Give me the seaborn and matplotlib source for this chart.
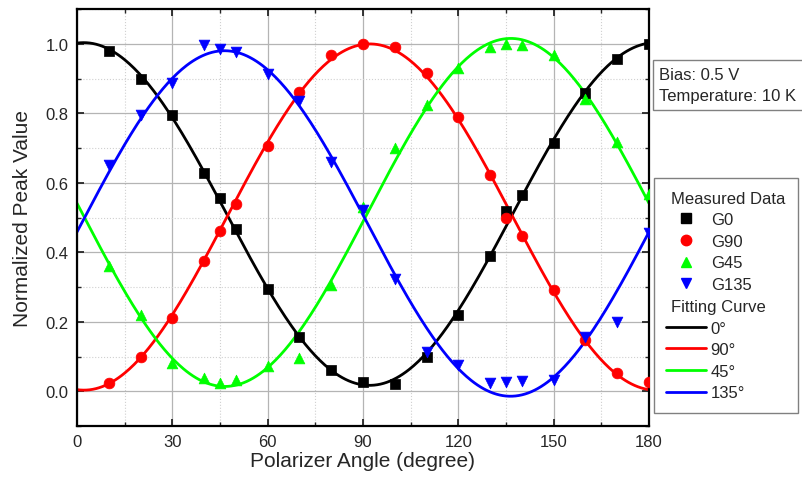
import matplotlib
matplotlib.use("Agg")
import matplotlib.pyplot as plt
import numpy as np
import pandas as pd
import seaborn as sns
from matplotlib.lines import Line2D
from matplotlib.patches import Rectangle
from matplotlib.ticker import MultipleLocator

angles = [10, 20, 30, 40, 45, 50, 60, 70, 80, 90, 100, 110, 120, 130, 135, 140, 150, 160, 170, 180]
g0 = [0.98, 0.90, 0.795, 0.628, 0.555, 0.467, 0.294, 0.156, 0.062, 0.026, 0.02, 0.098, 0.218, 0.389,
      0.52, 0.565, 0.715, 0.857, 0.957, 1.0]
g90 = [0.025, 0.10, 0.21, 0.375, 0.46, 0.54, 0.706, 0.862, 0.968, 1.0, 0.99, 0.916, 0.79, 0.622,
       0.50, 0.447, 0.29, 0.147, 0.052, 0.027]
g45 = [0.36, 0.218, 0.082, 0.037, 0.025, 0.032, 0.072, 0.095, 0.305, 0.53, 0.70, 0.825, 0.93, 0.99,
       1.0, 0.997, 0.968, 0.84, 0.718, 0.567]
g135 = [0.652, 0.795, 0.888, 0.997, 0.986, 0.975, 0.914, 0.835, 0.66, 0.523, 0.322, 0.112, 0.075, 0.025,
        0.027, 0.03, 0.032, 0.155, 0.198, 0.455]

series_names = ["G0", "G90", "G45", "G135"]
fit_labels = ["0°", "90°", "45°", "135°"]
colors = ["#000000", "#ff0000", "#00ff00", "#0000ff"]
markers = ["s", "o", "^", "v"]

sns.set_theme(style="ticks")
plt.rcParams["font.family"] = ["Liberation Sans", "DejaVu Sans"]
plt.rcParams["xtick.direction"] = "in"
plt.rcParams["ytick.direction"] = "in"

data = pd.DataFrame({"angle": angles * 4,
                     "value": g0 + g90 + g45 + g135,
                     "series": np.repeat(series_names, len(angles))})


def cos2_fit(x, y, x_new):
    # least squares fit of a + b*cos(2x) + c*sin(2x)
    t = np.radians(x)
    A = np.column_stack([np.ones_like(t), np.cos(2 * t), np.sin(2 * t)])
    coef, *_ = np.linalg.lstsq(A, np.asarray(y), rcond=None)
    tn = np.radians(x_new)
    return coef[0] + coef[1] * np.cos(2 * tn) + coef[2] * np.sin(2 * tn)


x_fit = np.linspace(0, 180, 361)
fit_rows = []
for name, lab in zip(series_names, fit_labels):
    sub = data[data["series"] == name]
    fit_rows.append(pd.DataFrame({"angle": x_fit,
                                  "value": cos2_fit(sub["angle"], sub["value"], x_fit),
                                  "curve": lab}))
fit_df = pd.concat(fit_rows)

fig = plt.figure(figsize=(8.03, 4.81), dpi=100)
ax = fig.add_axes([77 / 803, 1 - 427 / 481, (649 - 77) / 803, (427 - 10) / 481])

sns.lineplot(data=fit_df, x="angle", y="value", hue="curve", palette=colors,
             linewidth=2.0, legend=False, ax=ax, zorder=2)
for name, c, m in zip(series_names, colors, markers):
    sub = data[data["series"] == name]
    sns.scatterplot(data=sub, x="angle", y="value", color=c, marker=m, s=60,
                    edgecolor=c, linewidth=0.5, legend=False, ax=ax, zorder=3)

ax.set_xlim(0, 180)
ax.set_ylim(-0.1, 1.1)
ax.xaxis.set_major_locator(MultipleLocator(30))
ax.xaxis.set_minor_locator(MultipleLocator(15))
ax.yaxis.set_major_locator(MultipleLocator(0.2))
ax.yaxis.set_minor_locator(MultipleLocator(0.1))
ax.set_yticks([0.0, 0.2, 0.4, 0.6, 0.8, 1.0])
ax.set_yticklabels(["0.0", "0.2", "0.4", "0.6", "0.8", "1.0"])
ax.grid(which="major", color="#b4b4b4", linewidth=0.9, linestyle="-")
ax.grid(which="minor", color="#d0d0d0", linewidth=0.8, linestyle=":")
ax.set_axisbelow(True)
ax.tick_params(which="major", length=5, width=1.3, labelsize=12, top=True, right=True, pad=6)
ax.tick_params(which="minor", length=3, width=1.0, top=True, right=True)
for sp in ax.spines.values():
    sp.set_color("black")
    sp.set_linewidth(1.6)
ax.set_xlabel("Polarizer Angle (degree)", fontsize=15, labelpad=1)
ax.set_ylabel("Normalized Peak Value", fontsize=15, labelpad=10)

# legend with two header rows
blank = Line2D([], [], linestyle="none")
handles = [blank]
labels = ["Measured Data"]
for name, c, m in zip(series_names, colors, markers):
    handles.append(Line2D([], [], linestyle="none", marker=m, color=c, markersize=7.5))
    labels.append(name)
handles.append(blank)
labels.append("Fitting Curve")
for lab, c in zip(fit_labels, colors):
    handles.append(Line2D([], [], color=c, linewidth=2.0))
    labels.append(lab)

leg = ax.legend(handles, labels, loc="upper left", bbox_to_anchor=(654 / 803, 1 - 179 / 481),
                bbox_transform=fig.transFigure, borderaxespad=0, fontsize=12,
                handlelength=2.4, handletextpad=0.25, labelspacing=0.4, borderpad=0.75,
                fancybox=False, framealpha=1, edgecolor="#808080")
leg.get_frame().set_linewidth(1.0)
for column in leg._legend_handle_box.get_children():
    for row in column.get_children():
        da, ta = row.get_children()
        if ta.get_text() in ("Measured Data", "Fitting Curve"):
            da.set_width(0)

# condition box
fig.patches.append(Rectangle((653 / 803, 1 - 111 / 481), 160 / 803, 50 / 481,
                             transform=fig.transFigure, facecolor="white",
                             edgecolor="#808080", linewidth=1.0, clip_on=False))
fig.text(659 / 803, 1 - 76 / 481, "Bias: 0.5 V", fontsize=12, va="center")
fig.text(659 / 803, 1 - 97 / 481, "Temperature: 10 K", fontsize=12, va="center")

fig.savefig("out.png", dpi=100)
